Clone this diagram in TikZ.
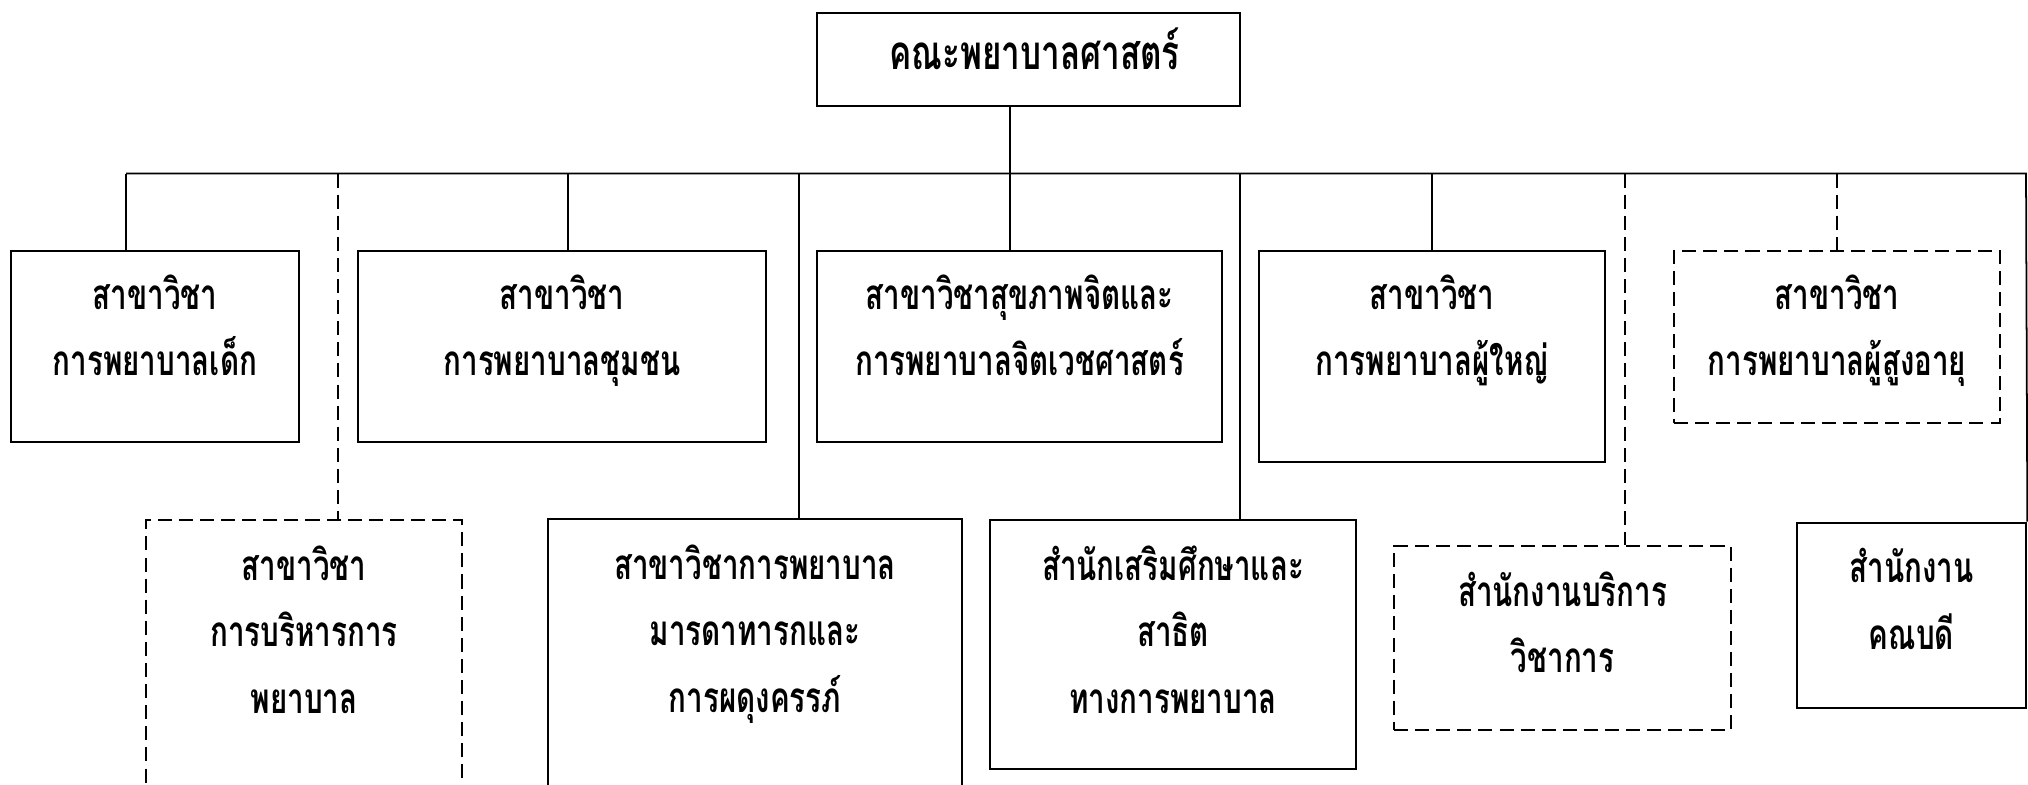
\documentclass[tikz,border=0pt]{standalone}
\usepackage{fontspec}
\newfontfamily\thaifont[Script=Thai, FakeStretch=0.7]{Loma}
\usetikzlibrary{positioning,fit}

\begin{document}
\begin{tikzpicture}[x=0.01cm, y=-0.01cm,
    box/.style={draw, line width=0.75pt, inner sep=0pt},
    dbox/.style={box, dash pattern=on 4pt off 2pt},
    txt/.style={align=center, inner sep=0pt, execute at begin node=\strut,
        font=\thaifont\bfseries\fontsize{12}{19}\selectfont},
    link/.style={line width=0.5pt},
    dlink/.style={link, dash pattern=on 4pt off 2pt}]
    \useasboundingbox (0,0) rectangle (2028,784);
    \clip (0,0) rectangle (2028,784);

    % faculty
    \node[box, fit={(817,13) (1240,106)}] (fac) {};
    \node[txt, font=\thaifont\bfseries\fontsize{13.5}{19}\selectfont, below=0.1cm of fac.north, xshift=0.06cm] (fac-t) {คณะพยาบาลศาสตร์};

    % first row
    \node[box, fit={(11,251) (299,442)}] (ped) {};
    \node[txt, below=0.24cm of ped.north] (ped-t) {สาขาวิชา\\การพยาบาลเด็ก};
    \node[box, fit={(358,251) (766,442)}] (comm) {};
    \node[txt, below=0.24cm of comm.north] (comm-t) {สาขาวิชา\\การพยาบาลชุมชน};
    \node[box, fit={(817,251) (1222,442)}] (psy) {};
    \node[txt, below=0.24cm of psy.north] (psy-t) {สาขาวิชาสุขภาพจิตและ\\การพยาบาลจิตเวชศาสตร์};
    \node[box, fit={(1259,251) (1605,462)}] (adult) {};
    \node[txt, below=0.24cm of adult.north] (adult-t) {สาขาวิชา\\การพยาบาลผู้ใหญ่};
    \node[dbox, fit={(1674,251) (2000,423)}] (geri) {};
    \node[txt, below=0.24cm of geri.north] (geri-t) {สาขาวิชา\\การพยาบาลผู้สูงอายุ};

    % second row
    \node[dbox, fit={(146,520) (462,800)}] (admin) {};
    \node[txt, below=0.26cm of admin.north] (admin-t) {สาขาวิชา\\การบริหารการ\\พยาบาล};
    \node[box, fit={(548,519) (962,800)}] (mat) {};
    \node[txt, below=0.26cm of mat.north] (mat-t) {สาขาวิชาการพยาบาล\\มารดาทารกและ\\การผดุงครรภ์};
    \node[box, fit={(990,520) (1356,769)}] (demo) {};
    \node[txt, below=0.26cm of demo.north] (demo-t) {สำนักเสริมศึกษาและ\\สาธิต\\ทางการพยาบาล};
    \node[dbox, fit={(1394,546) (1731,730)}] (acad) {};
    \node[txt, below=0.26cm of acad.north] (acad-t) {สำนักงานบริการ\\วิชาการ};
    \node[box, fit={(1797,523) (2026,708)}] (dean) {};
    \node[txt, below=0.26cm of dean.north] (dean-t) {สำนักงาน\\คณบดี};

    % bus and stems
    \coordinate (s-ped) at (126,173.5);
    \coordinate (s-admin) at (338,173.5);
    \coordinate (s-comm) at (568,173.5);
    \coordinate (s-mat) at (799,173.5);
    \coordinate (s-psy) at (1010,173.5);
    \coordinate (s-demo) at (1240,173.5);
    \coordinate (s-adult) at (1432,173.5);
    \coordinate (s-acad) at (1625,173.5);
    \coordinate (s-geri) at (1837,173.5);
    \coordinate (s-dean) at (2026,173.5);

    \draw[link] (fac.south -| s-psy) -- (psy.north -| s-psy);
    \draw[link] (s-ped) -- (s-dean) -- (dean.north east);
    \draw[link] (s-ped) -- (ped.north -| s-ped);
    \draw[dlink] (s-admin) -- (admin.north -| s-admin);
    \draw[link] (s-comm) -- (comm.north -| s-comm);
    \draw[link] (s-mat) -- (mat.north -| s-mat);
    \draw[link] (s-demo) -- (demo.north -| s-demo);
    \draw[link] (s-adult) -- (adult.north -| s-adult);
    \draw[dlink] (s-acad) -- (acad.north -| s-acad);
    \draw[dlink] (s-geri) -- (geri.north -| s-geri);
\end{tikzpicture}
\end{document}
